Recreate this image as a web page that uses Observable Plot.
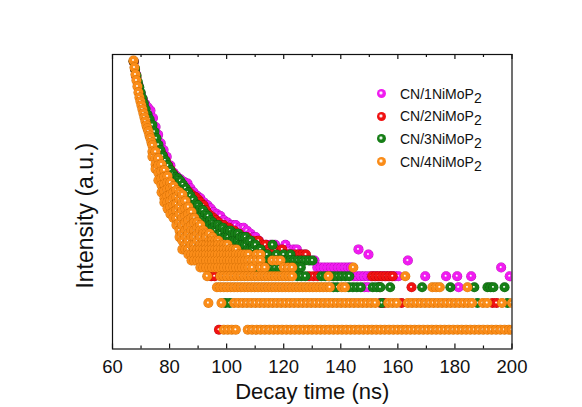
<!DOCTYPE html>
<html><head><meta charset="utf-8">
<script src="https://cdn.jsdelivr.net/npm/d3@7"></script>
<script src="https://cdn.jsdelivr.net/npm/@observablehq/plot@0.6"></script>
<style>
body{margin:0;background:#fff;}
#wrap{position:relative;width:582px;height:407px;font-family:"Liberation Sans",Arial,sans-serif;}
.item{position:absolute;left:377px;height:18px;display:flex;align-items:center;font-size:14px;color:#111;white-space:nowrap;}
.ldot{width:9px;height:9px;border-radius:50%;margin-right:14px;}
.sub{position:relative;top:4px;}
</style></head><body><div id="wrap"></div>
<script>
// ---- series & style names ----
const seriesNames = ["CN/1NiMoP", "CN/2NiMoP", "CN/3NiMoP", "CN/4NiMoP"];
const seriesColors = ["#f01cf0", "#f01212", "#167e16", "#fa8c18"];
const seriesDark = ["#b000b0", "#b00000", "#0a560a", "#cf6a00"];
const xTicks = [60, 80, 100, 120, 140, 160, 180, 200];
const xMinorTicks = [70, 90, 110, 130, 150, 170, 190];

// ---- CN/1NiMoP2 (magenta): [time ns, [counts]] ----
const magentaDecay = [[67.5,[1030]],[68.3,[740]],[69.1,[560]],[69.9,[450]],[70.7,[385]],[71.5,[345]],[72.4,[315]],[73.3,[290]],[74.2,[240]],[75.1,[190]],[76.0,[155]],[76.9,[125]],[77.9,[105]],[79.0,[88]],[80.3,[70]],[81.4,[58]],[82.5,[53]],[83.8,[49]],[85.0,[46]],[86.3,[44]],[87.3,[39]],[88.4,[35]],[89.6,[32]],[90.8,[30]],[92.0,[27]],[93.3,[25]],[94.4,[23]],[95.4,[21]],[96.6,[20]],[97.8,[19]],[99.0,[17]],[100.3,[16]],[101.7,[15]],[103.1,[15]],[104.5,[14]],[105.9,[14]],[107.1,[13]],[108.4,[12]],[109.3,[11]],[110.1,[11]],[111.3,[10]],[112.6,[9]],[114.0,[9]],[115.4,[9]],[117.0,[9]],[118.6,[8]],[120.6,[9]],[121.8,[8]],[123.4,[8]],[124.6,[8]],[125.9,[7]],[127.5,[7]],[129.4,[6]],[130.8,[6]],[146.2,[8]],[149.7,[7]],[163.5,[6]]];
const magentaL5 = [131.8,133.0,134.2,135.4,136.6,137.8,139.0,140.2,141.4,142.6,143.6,196.2];
const magentaL4 = [144.6,145.8,147.0,148.2,149.4,150.6,151.8,153.0,154.2,155.4,156.6,157.8,159.0,160.2,169.6,176.9,180.8,185.7,199.2];
const magentaL3 = [148.3,149.6,181.3];
const magentaL2 = [];
const magentaL1 = [];

// ---- CN/2NiMoP2 (red) ----
const redDecay = [[67.4,[1030]],[67.9,[840]],[68.4,[690]],[68.9,[570]],[69.5,[470]],[70.1,[400]],[70.8,[330]],[71.5,[280]],[72.4,[235]],[73.3,[200]],[74.2,[170,150]],[75.1,[140,122]],[76.0,[118,102]],[76.8,[102,88]],[77.7,[90,78]],[78.6,[80,68]],[79.5,[70,60]],[80.3,[63,54]],[81.2,[57,49]],[82.1,[52,45]],[83.0,[48,41]],[83.8,[45,38]],[84.7,[42,35]],[85.6,[39,33]],[86.5,[36,31]],[87.3,[34,29]],[88.2,[32,27]],[89.1,[31,26]],[90.0,[29,24]],[90.8,[27,22]],[91.9,[25,20]],[92.8,[22,18]],[93.6,[20,17]],[94.5,[19,16]],[95.4,[18,15]],[96.3,[17,14]],[97.2,[16,13]],[98.1,[15,12]],[99.0,[15,12]],[99.9,[14,11]],[100.8,[14,11]],[101.7,[13,11]],[102.6,[13,10]],[103.5,[12,10]],[104.4,[12,10]],[105.3,[11,9]],[106.2,[11,9]],[107.1,[11,9]],[108.0,[10,8]],[108.9,[10,8]],[109.8,[10,8]],[111.2,[10,8]],[112.5,[9,7]],[113.6,[9,7]],[114.7,[8,7]],[116.0,[8,6]],[117.1,[8,6]],[118.3,[7,6]],[119.5,[8,6]],[120.7,[7,6]],[121.9,[7,6]],[123.0,[7]],[124.2,[7]],[125.4,[7]],[126.6,[7]],[127.8,[7]]];
const redL5 = [107.5,108.7];
const redL4 = [94.6,95.8,128.9,130.4,131.9,151.0,152.2,153.4,154.6,155.8,157.0,158.2];
const redL3 = [153.6,164.8];
const redL2 = [153.9,155.2,161.3,193.2,194.6];
const redL1 = [97.3];

// ---- CN/3NiMoP2 (green) ----
const greenDecay = [[67.4,[1040]],[67.9,[860]],[68.4,[720]],[68.9,[610]],[69.4,[530]],[69.9,[460]],[70.5,[400]],[71.0,[350]],[71.6,[300]],[72.3,[260]],[73.0,[232]],[74.0,[200]],[74.7,[168]],[75.4,[142]],[76.1,[120]],[76.8,[104]],[77.6,[90]],[78.5,[80,70]],[79.4,[70,60]],[80.3,[62,52,45]],[81.2,[56,47,40]],[82.1,[52,44,37]],[83.0,[50,41,34]],[83.8,[47,39,32]],[84.7,[43,36,30]],[85.6,[39,33,28]],[86.5,[35,30,25]],[87.3,[32,27,23]],[88.2,[29,25,21]],[89.1,[26,22,19]],[90.0,[25,21,17]],[90.8,[23,19,16]],[91.7,[22,18,15]],[92.6,[20,17,14]],[93.5,[19,16,13]],[94.3,[17,15,12]],[95.2,[16,14,11]],[96.1,[15,13,11]],[97.0,[15,12,10]],[97.8,[14,12,10]],[98.7,[14,11,9]],[99.6,[13,11,9]],[100.5,[13,11,9]],[101.3,[13,10,8]],[102.2,[12,10,8]],[103.1,[12,10,8]],[104.0,[12,10,8]],[104.8,[11,9,7]],[105.7,[11,9,7]],[106.6,[11,9,7]],[107.5,[10,8,7]],[108.4,[10,8,6]],[109.3,[9,8,6]],[110.1,[9,7,6]],[111.0,[8,7,6]],[111.9,[8,7,6]],[113.0,[7,6]],[114.2,[7,6]],[115.4,[6]],[116.1,[9]],[117.5,[7,6]],[118.8,[6]],[120.0,[7,6]],[121.2,[6]],[122.4,[7,6]],[123.6,[6]],[124.9,[6]],[126.2,[6]],[127.5,[6]],[128.8,[6]],[130.1,[6]]];
const greenL5 = [108.0,109.5,111.0,112.5,114.0,115.5,117.0,118.5,120.0,121.5,123.0,124.5,126.0];
const greenL4 = [124.8,126.2,127.6,133.2,134.6,136.0,137.4,138.8,140.2,141.6,143.0];
const greenL3 = [137.4,138.8,142.8,144.2,145.6,147.0,151.2,152.6,153.9,157.3,168.5,178.4,186.8,191.4,192.5,193.5,197.4];
const greenL2 = [99.6,101.1,154.4,187.9,198.4];
const greenL1 = [];

// ---- CN/4NiMoP2 (orange) ----
const orangeDecay = [[67.36,[1062]],[67.71,[885]],[68.06,[739]],[68.41,[633]],[68.76,[542]],[69.11,[464]],[69.46,[408]],[69.81,[367]],[70.16,[331]],[70.51,[299]],[70.86,[269]],[71.21,[243]],[71.56,[219]],[71.91,[198]],[72.26,[183]],[72.61,[169]],[72.96,[152]],[73.31,[141]],[73.67,[127]],[74.0,[118,100,88]],[75.1,[100,84,72,64]],[76.1,[84,70,58,48]],[77.2,[72,60,50,42,35]],[78.2,[62,52,43,36,30,27]],[79.3,[53,45,38,32,27,23]],[80.3,[45,39,33,28,24,20]],[81.4,[41,35,30,25,21,18]],[82.4,[37,31,26,22,18,15]],[83.5,[35,29,24,20,16,13,11]],[84.5,[33,27,22,18,15,12,10,8]],[85.6,[28,23,19,16,13,11,9,8]],[86.6,[24,20,17,14,12,10,8,7]],[87.7,[21,18,15,13,11,9,7,6]],[88.7,[18,16,13,11,9,8,7,6]],[89.8,[16,14,12,10,8,7,6]],[90.8,[15,13,11,9,8,7,6,5]],[91.9,[13,12,10,9,8,7,6,5]],[92.9,[12,11,9,8,7,6,5]],[94.0,[12,10,9,8,7,6,5]],[95.0,[11,10,9,8,7,6,5]],[96.1,[10,9,8,7,6,5]],[97.1,[10,9,8,7,6,5]],[98.2,[9,8,7,6,5]],[99.2,[9,8,7,6,5]],[100.3,[9,8,7,6,5]],[101.3,[8,7,6,5]],[102.4,[8,7,6,5]],[103.4,[8,7,6,5]],[104.5,[7,6,5]],[105.5,[7,6,5]],[106.6,[7,6,5]],[107.7,[7,6,5]],[109.0,[6,5]],[110.5,[7,6]],[111.9,[7,6,5]],[113.4,[5]],[116.0,[6]],[117.5,[6]],[118.9,[6]],[120.0,[5]],[121.5,[5]],[123.0,[5]],[144.4,[5]]];
const orangeL4 = [93.2,97.8,99.0,100.2,101.4,102.6,103.8,105.0,106.2,107.4,108.6,109.8,111.0,112.2,113.4,114.6,115.8,117.0,118.2,119.4,120.6,121.8,123.0,135.7,162.6];
const orangeL3 = [96.6,97.8,99.0,100.2,101.4,102.6,103.8,105.0,106.2,107.4,108.6,109.8,111.0,112.2,113.4,114.6,115.8,117.0,118.2,119.4,120.6,121.8,123.0,124.2,125.4,126.6,127.8,129.0,130.2,131.4,132.6,133.8,135.0,136.2,140.3,141.5,172.1,173.4,174.7,184.4];
const orangeL2 = [93.6,98.2,102.6,104.1,105.6,107.1,108.6,110.1,111.6,113.1,114.6,116.1,117.6,119.1,120.6,122.1,123.6,125.1,126.6,128.1,129.6,131.1,132.6,134.1,135.6,137.1,138.6,140.1,141.6,143.1,144.6,146.1,147.6,149.1,150.6,152.1,156.6,158.1,159.6,163.5,165.0,166.5,168.0,169.5,171.0,172.5,174.0,175.5,177.0,178.5,180.0,181.5,183.0,184.5,186.0,189.8,191.3,196.5,200.0];
const orangeL1 = [99.0,100.4,101.8,103.2,107.4,108.9,110.4,111.9,113.4,114.9,116.4,117.9,119.4,120.9,122.4,123.9,125.4,126.9,128.4,129.9,131.4,132.9,134.4,135.9,137.4,138.9,140.4,141.9,143.4,144.9,146.4,147.9,149.4,150.9,152.4,153.9,155.4,156.9,158.4,159.9,161.4,162.9,164.4,165.9,167.4,168.9,170.4,171.9,173.4,174.9,176.4,177.9,179.4,180.9,182.4,183.9,185.4,186.9,188.4,189.9,191.4,192.9,194.4,195.9,197.4,198.9,200.0];

function build(decay, rows) {
  const out = [];
  for (const [t, cs] of decay) for (const c of cs) out.push({t, c});
  for (const [level, times] of rows) for (const t of times) out.push({t, c: level});
  return out;
}
const seriesData = [
  build(magentaDecay, [[5, magentaL5], [4, magentaL4], [3, magentaL3], [2, magentaL2], [1, magentaL1]]),
  build(redDecay, [[5, redL5], [4, redL4], [3, redL3], [2, redL2], [1, redL1]]),
  build(greenDecay, [[5, greenL5], [4, greenL4], [3, greenL3], [2, greenL2], [1, greenL1]]),
  build(orangeDecay, [[4, orangeL4], [3, orangeL3], [2, orangeL2], [1, orangeL1]])
];

const font = '"Liberation Sans", Arial, sans-serif';
const innerH = 348.5 - 54;
const chart = Plot.plot({
  width: 582, height: 407,
  marginLeft: 112, marginRight: 70.5, marginTop: 54, marginBottom: 58.5,
  style: {fontFamily: font, background: "transparent", color: "#111"},
  x: {domain: [60, 200]},
  y: {type: "log", domain: [0.608, 1240], axis: null},
  marks: [
    ...seriesData.map((d, i) => Plot.dot(d, {x: "t", y: "c", r: 5, fill: `url(#ball${i})`, stroke: "none", clip: true})),
    Plot.frame({stroke: "#111", strokeWidth: 1.2}),
    Plot.ruleX(xTicks, {x: d => d, insetTop: innerH - 5, stroke: "#111", strokeWidth: 1.2}),
    Plot.ruleX(xTicks, {x: d => d, insetBottom: innerH - 5, stroke: "#111", strokeWidth: 1.2}),
    Plot.ruleX(xMinorTicks, {x: d => d, insetTop: innerH - 3, stroke: "#111", strokeWidth: 1.2}),
    Plot.ruleX(xMinorTicks, {x: d => d, insetBottom: innerH - 3, stroke: "#111", strokeWidth: 1.2}),
    Plot.axisX(xTicks, {tickSize: 0, tickPadding: 11, fontSize: 18.5, label: null, tickFormat: d => String(d), fill: "#111"}),
    Plot.text(["Decay time (ns)"], {text: d => d, frameAnchor: "bottom", lineAnchor: "middle", textAnchor: "middle", dy: 43, fontSize: 22, fill: "#111"}),
    Plot.text(["Intensity (a.u.)"], {text: d => d, frameAnchor: "left", lineAnchor: "middle", textAnchor: "middle", rotate: -90, dx: -27, dy: 14, fontSize: 23, fill: "#111"})
  ]
});

// spherical gradient fills
const NS = "http://www.w3.org/2000/svg";
const defs = document.createElementNS(NS, "defs");
seriesColors.forEach((col, i) => {
  const g = document.createElementNS(NS, "radialGradient");
  g.setAttribute("id", "ball" + i);
  g.setAttribute("cx", "0.5"); g.setAttribute("cy", "0.5"); g.setAttribute("r", "0.5");
  g.setAttribute("fx", "0.44"); g.setAttribute("fy", "0.44");
  [[0, "#ffffff"], [0.08, "#ffffff"], [0.3, col], [0.85, col], [1, seriesDark[i]]].forEach(([o, c]) => {
    const s = document.createElementNS(NS, "stop");
    s.setAttribute("offset", o); s.setAttribute("stop-color", c);
    g.appendChild(s);
  });
  defs.appendChild(g);
});
chart.insertBefore(defs, chart.firstChild);

const wrap = document.getElementById("wrap");
wrap.appendChild(chart);

// legend inside the plot area
seriesNames.forEach((name, i) => {
  const item = document.createElement("div");
  item.className = "item";
  item.style.top = (84.5 + 22.7 * i) + "px";
  const dot = document.createElement("span");
  dot.className = "ldot";
  dot.style.background = `radial-gradient(circle at 44% 44%, #fff 0%, #fff 8%, ${seriesColors[i]} 32%, ${seriesColors[i]} 80%, ${seriesDark[i]} 100%)`;
  item.appendChild(dot);
  const label = document.createElement("span");
  label.textContent = name;
  const sub = document.createElement("span");
  sub.className = "sub";
  sub.textContent = "2";
  label.appendChild(sub);
  item.appendChild(label);
  wrap.appendChild(item);
});
</script>
</body></html>
